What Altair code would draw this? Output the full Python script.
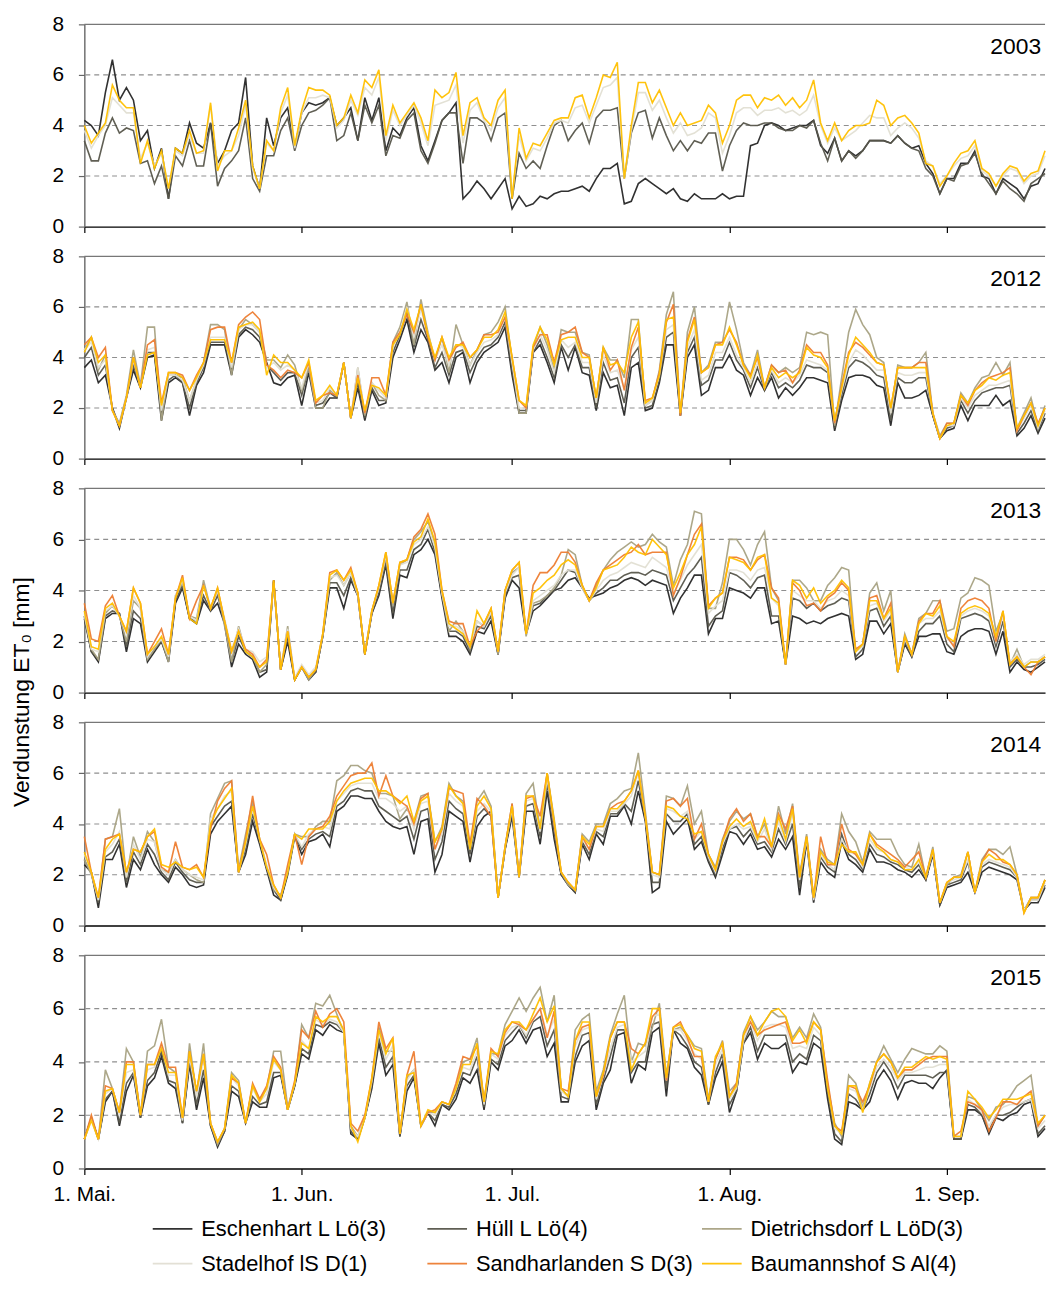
import altair as alt
import pandas as pd

FONT = "Liberation Sans"

SERIES = ["Eschenhart L Lö(3)", "Hüll L Lö(4)", "Dietrichsdorf L LöD(3)",
          "Stadelhof lS D(1)", "Sandharlanden S D(3)", "Baumannshof S Al(4)"]
COLORS = ["#262626", "#57564b", "#a8a283", "#e2dfd3", "#ed7d31", "#ffc000"]

YEARS = ["2003", "2012", "2013", "2014", "2015"]
MONTH_DAYS = [0, 31, 61, 92, 123]
MONTH_LABELS = ["1. Mai.", "1. Jun.", "1. Jul.", "1. Aug.", "1. Sep."]
Y_TICKS = [0, 2, 4, 6, 8]
GRID_VALUES = [2, 4, 6]

# ---------------- 2003 (daily ET0, 1 May - 15 Sep) ----------------
E_2003 = [4.2,4.0,3.6,5.3,6.6,5.0,5.5,5.0,3.4,3.8,
          2.3,3.1,1.1,3.1,2.9,4.1,3.3,3.1,4.1,2.5,
          3.0,3.8,4.1,5.9,2.4,1.5,4.3,3.2,4.3,4.7,
          3.1,4.5,4.9,4.8,4.9,5.1,4.0,4.3,4.7,3.4,
          5.1,4.2,5.1,3.0,3.9,3.6,4.3,4.7,3.2,2.6,
          3.4,4.2,4.5,4.9,1.1,1.4,1.8,1.5,1.1,1.5,
          1.9,0.7,1.2,0.8,0.9,1.2,1.1,1.3,1.4,1.4,
          1.5,1.6,1.4,1.9,2.3,2.3,2.5,0.9,1.0,1.7,
          1.9,1.7,1.5,1.3,1.5,1.1,1.0,1.3,1.1,1.1,
          1.1,1.3,1.1,1.2,1.2,3.2,3.3,4.0,4.1,4.0,
          3.8,3.9,4.0,4.0,4.2,3.2,2.9,3.5,2.6,3.0,
          2.8,3.0,3.4,3.4,3.4,3.3,3.6,3.3,3.1,3.2,
          2.5,2.1,1.3,1.9,1.9,2.5,2.5,3.0,2.0,1.9,
          1.3,1.9,1.7,1.5,1.1,1.6,1.7,2.3]
H_2003 = [3.4,2.6,2.6,3.7,4.3,3.7,3.9,3.8,2.5,2.6,
          1.7,2.4,1.1,2.8,2.4,3.4,2.4,2.4,4.1,1.6,
          2.3,2.6,3.0,4.3,1.9,1.4,2.8,2.8,3.8,4.3,
          3.0,4.0,4.5,4.6,4.8,5.1,3.4,3.6,4.5,3.4,
          4.8,4.1,4.8,2.8,3.6,3.5,4.2,4.5,3.0,2.5,
          3.3,4.2,4.5,4.5,2.5,4.3,4.3,4.1,3.4,4.3,
          4.5,1.1,2.9,2.3,2.6,2.3,3.2,4.0,4.2,3.4,
          3.8,4.1,3.3,4.3,4.6,4.6,4.7,1.9,3.7,4.5,
          4.6,3.5,4.3,3.6,3.0,3.4,3.0,3.4,3.3,3.7,
          3.7,2.2,3.2,3.8,4.1,4.0,4.0,4.1,4.1,3.9,
          3.8,3.8,4.0,3.9,4.2,3.3,2.6,3.5,2.6,3.0,
          2.7,3.0,3.4,3.4,3.4,3.3,3.6,3.3,3.1,3.0,
          2.3,2.0,1.3,1.9,1.8,2.4,2.5,2.9,2.1,1.7,
          1.3,1.8,1.5,1.3,1.0,1.7,1.9,2.1]
S_2003 = [3.8,3.1,3.6,4.0,5.1,4.8,4.5,4.5,2.7,3.3,
          2.4,2.9,1.5,3.0,2.8,3.6,2.9,2.9,4.8,2.4,
          2.8,3.0,3.6,4.8,2.3,1.5,3.3,3.0,4.5,5.2,
          3.1,4.5,5.1,5.1,5.2,5.1,3.9,4.2,5.0,4.4,
          5.5,5.2,5.9,3.4,4.6,4.0,4.4,4.8,4.1,3.2,
          4.8,4.9,5.0,5.6,3.3,4.6,4.9,4.2,3.8,4.7,
          5.1,1.2,3.6,2.6,3.1,3.0,3.5,4.1,4.2,4.1,
          4.7,4.8,4.1,4.8,5.5,5.6,5.9,1.9,3.8,5.3,
          5.3,4.6,5.0,4.3,3.7,4.1,3.6,3.7,3.9,4.5,
          4.3,2.9,3.6,4.5,4.7,4.7,4.4,4.6,4.6,4.7,
          4.5,4.6,4.4,4.6,5.2,4.0,3.3,3.9,3.4,3.6,
          3.8,4.1,4.4,4.3,4.3,3.6,3.9,4.1,3.9,3.5,
          2.6,2.4,1.7,2.0,2.4,2.7,2.8,3.2,2.2,2.0,
          1.6,2.0,2.3,2.2,1.7,2.0,2.1,2.8]
B_2003 = [4.0,3.3,3.7,4.1,5.6,5.0,4.7,4.7,2.5,3.4,
          2.3,3.0,1.5,3.1,2.9,3.8,2.9,3.0,4.9,2.2,
          3.0,3.0,3.9,5.0,2.4,1.5,3.4,3.0,4.7,5.5,
          3.2,4.6,5.5,5.4,5.4,5.2,4.0,4.3,5.2,4.5,
          5.8,5.5,6.2,3.6,4.8,4.1,4.5,4.9,4.3,3.4,
          5.4,5.1,5.3,6.1,3.6,4.9,5.1,4.3,4.0,5.0,
          5.4,1.1,3.9,2.7,3.3,3.2,3.7,4.2,4.3,4.3,
          5.1,5.2,4.3,5.1,6.0,5.9,6.5,1.9,4.0,5.7,
          5.7,4.9,5.4,4.7,4.0,4.5,4.0,4.1,4.2,4.8,
          4.5,3.3,4.0,5.0,5.2,5.2,4.7,5.1,5.0,5.2,
          4.8,5.1,4.7,5.0,5.8,4.1,3.4,4.1,3.4,3.8,
          4.0,4.0,4.1,5.0,4.8,4.0,4.3,4.4,4.1,3.7,
          2.5,2.4,1.6,2.0,2.5,2.9,3.0,3.4,2.3,2.1,
          1.6,2.1,2.4,2.3,1.8,2.1,2.2,3.0]

# ---------------- 2012 ----------------
E_2012 = [3.6,3.9,3.0,3.3,2.0,1.2,2.4,3.5,2.8,4.0,
          4.1,1.5,3.0,3.2,3.0,1.7,2.9,3.4,4.5,4.5,
          4.5,3.3,4.8,5.1,4.9,4.6,3.8,3.0,2.9,3.2,
          3.3,2.1,3.4,2.0,2.0,2.4,2.4,3.8,1.6,2.8,
          1.5,2.7,2.1,2.2,4.0,4.7,5.5,4.2,5.1,4.6,
          3.5,3.8,3.0,4.0,4.2,3.0,3.8,4.2,4.4,4.6,
          5.2,3.3,1.8,1.8,4.2,4.5,3.8,3.0,4.4,3.5,
          4.4,3.4,3.3,1.9,3.4,2.8,2.9,1.7,3.6,3.8,
          1.9,2.0,3.0,4.5,4.5,1.7,4.0,4.5,2.5,2.7,
          3.6,3.6,4.1,3.5,3.3,2.5,3.2,2.7,3.2,2.4,
          2.8,2.5,2.8,3.2,3.2,3.1,3.0,1.1,2.3,3.2,
          3.3,3.3,3.2,2.9,2.8,1.3,3.0,2.4,2.4,2.5,
          2.7,1.7,0.8,1.1,1.2,2.1,1.5,2.1,2.1,2.1,
          2.5,2.1,2.3,0.9,1.2,1.7,1.0,1.6]
H_2012 = [4.0,4.4,3.3,3.7,2.0,1.3,2.4,3.7,2.8,4.2,
          4.2,1.7,3.1,3.3,3.0,2.0,3.0,3.6,4.6,4.6,
          4.6,3.5,4.9,5.2,5.1,4.8,3.7,3.4,3.1,3.4,
          3.4,2.5,3.6,2.1,2.2,2.6,2.4,3.8,1.6,3.0,
          1.6,2.8,2.3,2.3,4.2,4.9,5.8,4.4,5.5,4.7,
          3.6,4.2,3.3,4.2,4.3,3.4,4.0,4.4,4.5,4.8,
          5.4,3.5,1.9,1.9,4.2,4.7,4.0,3.2,4.5,4.0,
          4.5,3.6,3.6,2.0,3.8,3.1,3.2,2.2,4.0,4.4,
          2.0,2.1,3.1,4.8,5.0,1.7,4.2,4.8,2.9,3.1,
          3.9,3.9,4.6,3.9,3.5,2.8,3.6,2.7,3.4,2.8,
          3.0,2.8,3.1,3.7,3.6,3.6,3.4,1.2,2.5,3.6,
          3.9,3.8,3.6,3.3,3.2,1.5,3.2,3.0,3.0,3.2,
          3.2,1.7,0.8,1.2,1.3,2.3,1.8,2.3,2.6,2.7,
          2.8,2.8,2.9,1.0,1.4,1.9,1.1,1.8]
D_2012 = [4.3,4.8,3.5,4.1,1.9,1.4,2.5,4.3,2.9,5.2,
          5.2,1.5,3.3,3.3,3.2,2.3,3.1,3.8,5.3,5.3,
          5.1,3.3,5.1,5.5,5.3,5.0,3.9,3.9,3.6,4.1,
          3.7,2.7,3.6,2.0,2.0,2.7,2.5,3.8,1.6,3.6,
          1.7,3.0,2.5,2.3,4.6,5.2,6.2,4.5,6.3,5.0,
          3.9,4.8,3.4,5.3,4.5,3.7,4.3,4.9,5.0,5.4,
          6.0,3.9,1.8,1.8,4.4,5.2,4.5,3.5,5.1,5.0,
          5.0,4.2,4.1,2.3,4.4,3.9,3.9,3.2,5.5,5.5,
          2.1,2.3,3.5,5.7,6.6,1.7,5.0,6.0,3.4,3.7,
          4.6,4.6,6.2,5.1,3.8,3.3,4.3,2.8,3.7,3.4,
          3.6,3.4,3.6,5.0,4.9,5.0,4.9,1.3,3.2,5.0,
          5.9,5.3,4.9,4.0,3.8,1.8,3.7,3.6,3.6,3.8,
          4.2,1.8,0.9,1.4,1.4,2.6,2.2,2.8,3.2,3.3,
          3.8,3.3,3.8,1.2,1.8,2.4,1.3,2.1]
S_2012 = [4.3,4.6,3.6,3.9,1.9,1.3,2.4,3.9,2.8,4.3,
          4.4,1.9,3.3,3.3,3.1,2.3,3.1,3.7,4.8,4.8,
          4.8,3.6,5.1,5.3,5.3,5.0,3.6,3.8,3.5,3.7,
          3.5,2.8,3.8,2.2,2.3,2.8,2.5,3.8,1.6,3.6,
          1.8,3.0,2.7,2.4,4.4,5.0,6.0,4.8,5.9,4.9,
          3.9,4.5,3.7,4.5,4.4,3.7,4.2,4.6,4.7,4.9,
          5.6,3.8,2.0,2.0,4.3,4.9,4.3,3.4,4.7,4.4,
          4.6,3.8,3.8,2.2,4.1,3.4,3.5,2.8,4.3,4.8,
          2.1,2.3,3.3,5.1,5.3,1.8,4.4,5.1,3.1,3.3,
          4.2,4.2,4.8,4.1,3.6,3.0,3.8,2.8,3.5,3.0,
          3.2,3.0,3.3,3.9,3.8,3.7,3.5,1.4,2.7,3.8,
          4.3,4.1,3.8,3.5,3.5,1.8,3.4,3.3,3.3,3.4,
          3.4,1.8,0.8,1.3,1.3,2.4,2.0,2.5,2.7,2.9,
          2.9,3.0,3.1,1.1,1.6,2.1,1.2,1.9]
Sa_2012 = [4.5,4.8,4.0,4.4,1.9,1.3,2.4,4.0,2.8,4.5,
           4.7,2.2,3.4,3.4,3.3,2.7,3.3,3.8,5.1,5.2,
           5.2,3.8,5.3,5.6,5.8,5.5,3.7,3.5,3.2,3.5,
           3.4,3.2,3.8,2.2,2.5,2.6,2.5,3.8,1.6,3.3,
           1.8,3.2,3.2,2.5,4.6,5.0,5.7,5.0,6.1,4.8,
           3.9,4.8,3.9,4.4,4.6,4.0,4.3,4.9,4.9,5.0,
           5.6,4.0,2.3,2.0,4.4,4.9,4.9,3.8,4.9,5.0,
           5.2,4.2,4.0,2.4,4.4,3.5,3.9,2.7,4.4,5.2,
           2.3,2.4,3.4,5.4,6.1,1.7,4.7,5.6,3.4,3.6,
           4.5,4.6,5.1,4.6,3.7,3.3,4.0,2.8,3.7,3.4,
           3.5,3.0,3.5,4.5,4.2,4.2,3.7,1.4,2.9,4.2,
           4.6,4.4,4.1,3.8,3.7,2.0,3.6,3.6,3.6,3.8,
           3.8,1.8,0.8,1.4,1.4,2.5,2.1,2.7,3.0,3.2,
           3.3,3.4,3.6,1.1,1.7,2.2,1.4,2.0]
B_2012 = [4.2,4.8,3.8,4.1,1.9,1.3,2.4,4.0,2.8,4.1,
          4.2,2.1,3.4,3.4,3.2,2.7,3.2,3.8,4.7,4.7,
          4.7,3.8,5.2,5.3,5.4,5.1,3.3,4.1,3.8,3.8,
          3.5,3.2,3.9,2.3,2.5,2.9,2.5,3.8,1.6,3.2,
          1.9,2.9,2.8,2.5,4.5,4.9,5.9,5.1,6.1,4.9,
          4.0,4.8,4.0,4.5,4.5,4.0,4.3,4.8,4.8,5.1,
          5.8,4.0,2.3,2.1,4.5,5.2,4.7,3.7,4.7,4.8,
          4.8,4.0,4.0,2.4,4.4,3.7,3.8,3.4,4.8,5.4,
          2.2,2.4,3.3,5.5,5.6,1.8,4.6,5.5,3.4,3.6,
          4.5,4.5,5.2,4.5,3.7,3.2,4.1,2.8,3.6,3.2,
          3.4,3.2,3.4,4.4,4.1,4.0,3.6,1.5,2.8,4.1,
          4.8,4.5,4.2,3.8,3.7,2.0,3.6,3.6,3.6,3.6,
          3.6,1.8,0.8,1.3,1.4,2.5,2.2,2.7,2.9,3.2,
          3.1,3.3,3.4,1.2,1.7,2.2,1.3,2.0]

# ---------------- 2013 ----------------
E_2013 = [2.9,1.6,1.2,2.9,3.1,3.1,1.6,2.9,2.7,1.2,
          1.6,2.0,1.2,3.5,4.1,2.9,2.7,3.6,3.2,3.5,
          2.7,1.0,1.9,1.5,1.3,0.6,0.8,4.4,0.9,2.0,
          0.5,1.0,0.5,0.8,2.2,4.1,4.1,3.3,4.4,3.8,
          1.5,3.1,3.8,5.0,2.9,4.6,4.5,5.4,5.6,6.0,
          5.4,3.7,2.2,2.2,2.0,1.5,2.4,2.3,2.8,1.5,
          3.7,4.4,4.1,2.3,3.2,3.4,3.7,4.0,4.1,4.4,
          4.5,4.1,3.7,3.8,3.9,4.1,4.2,4.4,4.5,4.4,
          4.2,4.4,4.3,4.2,3.1,3.7,4.1,4.6,4.6,2.3,
          2.9,2.9,4.1,4.0,3.9,3.7,4.1,4.1,2.7,2.8,
          1.1,3.0,2.9,2.7,2.8,2.7,2.9,3.0,3.1,3.0,
          1.3,1.5,2.8,2.8,2.3,2.7,0.8,1.9,1.4,2.2,
          2.2,2.3,2.3,1.6,1.5,2.2,2.4,2.5,2.5,2.4,
          1.5,2.4,0.8,1.2,0.9,0.8,1.0,1.2]
H_2013 = [3.0,1.6,1.3,3.0,3.2,3.1,1.8,3.2,2.9,1.3,
          1.7,2.0,1.3,3.6,4.2,2.9,2.8,3.8,3.2,3.8,
          2.8,1.2,2.2,1.6,1.4,0.8,0.9,4.4,0.9,2.2,
          0.5,1.0,0.6,0.8,2.2,4.3,4.3,3.8,4.5,3.8,
          1.5,3.1,3.9,5.1,3.1,4.8,4.8,5.6,5.8,6.4,
          5.5,3.8,2.4,2.4,2.2,1.6,2.6,2.5,3.0,1.5,
          3.8,4.5,4.6,2.3,3.4,3.5,3.8,4.0,4.4,4.8,
          4.7,4.1,3.6,3.9,4.1,4.4,4.4,4.6,4.7,4.7,
          4.6,4.8,4.7,4.6,3.6,4.1,4.6,4.9,5.3,2.6,
          3.0,3.2,4.7,4.6,4.4,4.1,4.5,4.6,3.0,3.0,
          1.1,3.7,3.6,3.3,3.5,3.2,3.4,3.5,3.7,3.6,
          1.4,1.7,3.2,3.3,2.6,3.0,0.8,2.0,1.4,2.4,
          2.7,2.7,3.0,1.9,1.6,2.9,3.0,3.1,3.0,2.8,
          1.8,2.8,1.0,1.3,1.0,1.0,1.1,1.3]
D_2013 = [3.0,1.7,1.3,3.1,3.4,3.0,2.0,3.6,3.3,1.3,
          1.7,2.1,1.2,3.8,4.3,3.0,2.9,4.4,3.3,4.0,
          2.6,1.2,2.6,1.6,1.4,0.8,1.1,4.3,0.9,2.6,
          0.5,1.0,0.5,0.9,2.2,4.4,4.7,4.2,4.7,3.9,
          1.5,3.2,4.1,5.3,3.4,5.0,5.2,6.0,6.3,6.7,
          5.8,3.9,2.4,2.8,2.4,1.7,2.8,2.6,3.2,1.5,
          4.0,4.7,4.9,2.2,3.5,3.6,3.8,4.1,4.6,5.6,
          5.4,4.2,3.6,4.2,4.8,5.2,5.5,5.7,5.9,5.7,
          5.8,6.2,5.9,5.7,4.2,5.2,5.8,7.1,7.0,3.3,
          3.3,4.3,6.0,6.0,5.6,5.0,5.8,6.3,4.1,3.6,
          1.1,4.4,4.4,4.1,3.6,3.6,4.2,4.5,4.9,4.8,
          1.6,1.9,3.9,4.3,3.2,4.0,0.8,2.3,1.5,2.9,
          3.1,3.6,3.6,2.4,2.5,3.7,3.9,4.5,4.4,4.2,
          2.4,3.1,1.1,1.7,1.0,1.2,1.2,1.4]
S_2013 = [3.1,1.7,1.6,3.2,3.4,3.0,2.3,3.8,3.3,1.4,
          1.8,2.1,1.4,3.8,4.4,3.0,2.8,4.2,3.3,4.0,
          2.9,1.7,2.5,1.7,1.6,1.2,1.4,4.3,1.0,2.5,
          0.6,1.1,0.7,1.0,2.3,4.5,4.6,4.2,4.7,3.8,
          1.6,3.2,4.1,5.4,3.5,5.0,5.1,5.8,6.0,6.5,
          5.7,3.9,2.6,2.6,2.4,1.8,2.8,2.6,3.2,1.6,
          3.9,4.6,4.9,2.3,3.6,3.8,4.0,4.2,4.6,4.8,
          4.8,4.1,3.6,4.0,4.4,4.6,4.7,4.9,5.1,5.0,
          4.9,5.3,5.1,4.9,3.9,4.4,5.0,5.4,5.8,3.1,
          3.4,3.6,4.8,4.8,4.7,4.4,4.8,4.9,3.7,3.4,
          1.1,4.0,3.8,3.6,3.6,3.3,3.6,3.7,4.0,3.8,
          1.6,1.8,3.4,3.5,2.8,3.2,0.8,2.1,1.5,2.7,
          2.9,2.9,3.2,2.1,1.9,3.0,3.2,3.3,3.2,3.0,
          2.0,3.0,1.2,1.5,1.1,1.3,1.3,1.5]
Sa_2013 = [3.5,2.1,2.0,3.4,3.8,3.0,2.4,4.1,3.5,1.5,
           2.0,2.5,1.5,3.7,4.6,2.9,3.6,4.2,3.3,4.1,
           2.8,1.6,2.4,1.7,1.5,1.0,1.3,4.4,0.9,2.4,
           0.5,1.0,0.6,0.9,2.3,4.7,4.8,4.4,4.9,3.9,
           1.5,3.2,4.2,5.5,3.5,5.1,5.2,6.1,6.4,7.0,
           6.2,4.0,2.8,2.7,2.7,1.8,2.4,2.7,3.3,1.6,
           4.0,4.8,5.1,2.3,4.2,4.7,4.7,5.0,5.5,5.5,
           5.1,4.2,3.6,4.3,4.8,5.0,5.2,5.4,5.5,5.8,
           5.4,5.5,5.5,5.5,3.8,4.5,5.4,6.2,6.6,3.4,
           3.7,3.9,5.3,5.3,5.2,4.8,5.2,5.4,4.1,3.7,
           1.1,4.3,4.0,3.4,3.5,3.2,3.7,3.9,4.3,4.0,
           1.7,1.9,3.7,3.8,2.9,3.5,0.8,2.2,1.5,2.8,
           3.1,3.1,3.6,2.2,1.8,3.3,3.6,3.7,3.6,3.3,
           2.0,3.2,1.1,1.4,1.0,0.7,1.2,1.4]
B_2013 = [3.2,1.8,1.7,3.3,3.5,3.0,2.4,4.1,3.5,1.5,
          1.8,2.2,1.5,3.7,4.5,2.9,2.7,4.2,3.3,4.1,
          2.8,1.6,2.4,1.6,1.4,1.0,1.2,4.4,0.9,2.4,
          0.5,1.0,0.6,0.9,2.3,4.6,4.8,4.4,4.8,3.9,
          1.5,3.2,4.2,5.5,3.5,5.1,5.2,5.9,6.1,6.8,
          5.9,4.0,2.7,2.5,2.3,1.8,3.2,2.7,3.3,1.6,
          4.0,4.8,5.1,2.3,3.9,4.1,4.4,4.6,5.0,5.2,
          5.0,4.2,3.6,4.1,4.8,4.9,5.0,5.3,5.7,5.5,
          5.4,6.0,5.7,5.4,4.1,4.7,5.4,5.8,6.5,3.3,
          3.7,3.9,5.3,5.2,5.1,4.8,5.3,5.4,3.7,3.5,
          1.1,4.4,4.2,3.7,4.1,3.5,3.8,4.0,4.4,4.1,
          1.6,1.9,3.6,3.6,2.9,3.3,0.8,2.2,1.5,2.7,
          3.1,3.0,3.4,2.2,2.0,3.1,3.3,3.4,3.3,3.1,
          2.2,3.2,1.1,1.4,1.0,1.2,1.2,1.4]

# ---------------- 2014 ----------------
E_2014 = [2.4,2.1,0.7,2.6,2.6,3.2,1.5,2.6,2.2,3.0,
          2.4,2.0,1.7,2.3,2.0,1.6,1.5,1.6,3.6,4.1,
          4.4,4.7,2.1,2.8,4.1,3.2,2.2,1.2,1.0,2.0,
          3.5,2.8,3.3,3.4,3.6,3.1,4.5,4.7,5.1,5.1,
          5.0,5.0,4.5,4.1,3.9,3.8,3.9,2.8,4.1,4.2,
          2.1,2.8,4.5,4.3,4.1,2.5,3.9,4.3,4.5,1.1,
          3.0,4.3,1.9,4.5,4.5,3.2,5.3,3.4,2.0,1.6,
          1.3,3.2,2.6,3.6,3.2,4.3,4.3,4.7,4.0,5.3,
          4.1,1.3,1.5,4.1,3.6,3.9,4.2,3.0,3.3,2.5,
          1.9,2.8,3.7,3.6,3.2,3.6,3.0,3.1,2.7,3.4,
          3.0,3.5,1.2,3.3,0.9,2.5,2.1,1.9,3.3,2.6,
          2.4,2.1,3.0,2.5,2.5,2.4,2.2,2.1,1.9,2.2,
          1.8,2.8,0.8,1.5,1.6,1.7,2.1,1.3,2.1,2.3,
          2.2,2.1,2.0,1.8,0.6,0.9,0.9,1.5]
H_2014 = [2.6,2.1,0.9,2.7,2.9,3.4,1.7,2.9,2.4,3.2,
          2.8,2.1,1.8,2.5,2.1,1.8,1.7,1.7,3.9,4.3,
          4.7,4.9,2.1,3.0,4.4,3.3,2.3,1.4,1.0,2.1,
          3.6,3.0,3.4,3.6,3.7,3.5,4.7,4.9,5.3,5.4,
          5.3,5.3,4.7,4.5,4.3,4.1,4.3,3.4,4.5,4.6,
          2.6,3.3,4.9,4.6,4.4,2.8,4.3,4.6,4.3,1.1,
          3.0,4.5,1.9,4.7,4.8,3.5,5.6,3.7,2.0,1.6,
          1.3,3.3,2.8,3.7,3.5,4.4,4.4,4.8,4.5,5.7,
          4.2,1.7,1.7,4.4,4.1,4.1,4.4,3.2,3.5,2.6,
          2.0,3.0,3.8,3.9,3.5,3.8,3.2,3.3,2.9,3.8,
          3.2,4.0,1.5,3.4,1.0,2.7,2.3,2.1,3.6,2.8,
          2.6,2.2,3.2,2.8,2.7,2.5,2.4,2.2,2.1,2.4,
          1.8,2.9,0.8,1.6,1.7,1.8,2.5,1.3,2.3,2.5,
          2.4,2.3,2.2,1.9,0.6,1.0,1.0,1.6]
D_2014 = [2.6,2.0,1.0,3.4,3.5,4.6,1.9,3.5,2.7,3.7,
          3.3,2.2,2.1,2.6,2.2,2.0,1.8,1.7,4.4,5.0,
          5.6,5.7,2.2,3.6,4.9,3.4,2.3,1.4,1.2,2.1,
          3.6,3.5,3.5,3.9,4.1,4.1,5.7,5.9,6.3,6.3,
          6.1,6.0,5.2,5.2,5.1,4.2,4.6,4.1,5.1,5.2,
          3.3,3.9,5.6,5.1,4.9,3.1,4.9,5.3,4.7,1.1,
          3.1,4.8,1.9,5.2,5.6,3.8,6.0,4.2,2.1,1.6,
          1.4,3.6,3.3,4.0,4.0,4.8,5.0,5.3,5.4,6.8,
          4.5,2.1,2.0,5.1,5.0,4.7,5.5,4.0,4.5,2.8,
          2.3,3.4,4.1,4.5,4.2,4.4,3.5,4.0,3.1,4.7,
          3.6,4.8,2.0,3.6,1.1,3.0,2.6,2.4,4.4,3.7,
          3.3,2.5,3.7,3.4,3.4,3.4,2.8,2.4,2.3,3.2,
          1.9,3.1,0.9,1.6,1.9,2.0,2.9,1.3,2.6,3.0,
          3.0,2.8,3.1,2.0,0.6,1.1,1.1,1.8]
S_2014 = [2.8,2.1,1.0,2.9,3.2,3.7,1.9,3.2,2.6,3.4,
          3.3,2.2,2.0,2.6,2.2,2.0,1.9,1.8,4.2,4.6,
          5.1,5.3,2.1,3.2,4.6,3.4,2.4,1.5,1.1,2.2,
          3.6,3.1,3.6,3.8,3.9,3.8,4.9,5.2,5.5,5.6,
          5.6,5.6,5.0,5.0,4.8,4.5,4.7,3.8,4.8,4.9,
          3.0,3.6,5.2,4.9,4.7,3.0,4.5,4.8,4.5,1.1,
          3.1,4.6,1.9,4.9,5.0,3.7,5.8,4.0,2.1,1.7,
          1.4,3.4,3.0,3.8,3.7,4.5,4.5,4.8,5.1,6.0,
          4.3,2.0,1.9,4.6,4.5,4.3,4.5,3.4,3.7,2.7,
          2.1,3.2,3.8,4.0,3.8,3.9,3.3,3.8,3.0,4.1,
          3.3,4.4,1.8,3.4,1.0,2.8,2.4,2.2,3.4,2.9,
          2.8,2.3,3.4,3.0,2.9,2.6,2.5,2.3,2.2,2.5,
          1.9,2.9,0.9,1.7,1.8,1.9,2.6,1.3,2.4,2.6,
          2.5,2.4,2.3,1.9,0.6,1.0,1.0,1.7]
Sa_2014 = [3.5,2.1,1.1,3.4,3.5,3.6,2.1,3.0,2.9,3.5,
           3.7,2.3,2.1,3.3,2.3,2.2,2.4,1.9,3.8,4.9,
           5.4,5.7,2.1,3.4,5.1,3.4,2.8,1.6,1.1,2.4,
           3.6,2.4,3.5,3.8,3.9,4.3,5.1,5.5,5.9,6.0,
           6.0,6.4,5.1,5.9,5.1,4.9,4.7,4.0,5.0,5.2,
           3.0,3.8,5.4,5.3,5.2,3.2,5.0,4.7,4.3,1.1,
           3.1,4.8,1.9,5.0,5.1,4.3,6.0,4.0,2.1,1.7,
           1.4,3.5,3.0,3.9,3.9,4.6,4.8,4.9,5.3,6.1,
           4.3,2.1,2.0,4.9,5.0,4.7,5.0,3.4,4.0,2.8,
           2.2,3.3,4.2,4.6,4.1,4.4,3.5,3.5,3.1,4.4,
           3.8,4.7,1.9,3.5,1.1,3.5,2.4,2.4,4.0,3.0,
           2.8,2.4,3.6,3.2,3.0,2.8,2.6,2.3,2.6,2.9,
           1.9,3.0,0.9,1.7,1.9,1.9,2.9,1.3,2.5,3.0,
           2.8,2.5,2.4,2.0,0.5,1.1,1.1,1.8]
B_2014 = [2.9,2.1,1.1,3.0,3.4,3.6,2.1,3.0,2.9,3.5,
          3.8,2.4,2.3,2.5,2.3,2.2,2.3,1.9,4.0,4.6,
          5.0,5.4,2.1,3.3,4.7,3.4,2.3,1.6,1.1,2.1,
          3.6,3.4,3.8,3.8,3.8,4.1,4.9,5.3,5.6,5.7,
          5.8,5.8,5.3,5.3,5.1,4.8,5.1,4.1,4.9,5.1,
          3.3,3.8,5.5,5.1,4.8,3.0,4.7,5.1,4.6,1.1,
          3.1,4.7,1.9,5.1,5.1,3.8,6.0,4.1,2.1,1.7,
          1.4,3.5,3.2,3.9,3.9,4.6,4.6,4.9,5.3,6.1,
          4.3,2.1,2.0,4.7,4.6,4.3,4.2,3.6,3.7,2.8,
          2.2,3.3,3.9,4.2,3.9,4.1,3.4,4.2,3.1,4.3,
          3.4,4.6,1.9,3.5,1.1,2.9,2.5,2.4,3.2,2.9,
          2.9,2.4,3.6,3.1,2.9,2.6,2.5,2.2,2.2,2.6,
          1.9,3.0,0.9,1.7,1.9,1.9,2.9,1.3,2.5,2.8,
          2.6,2.6,2.4,2.0,0.5,1.1,1.1,1.8]

# ---------------- 2015 ----------------
E_2015 = [1.1,1.9,1.1,2.5,2.9,1.6,2.9,3.5,1.9,3.1,
          3.4,4.2,3.2,3.0,1.7,3.9,2.2,3.4,1.6,0.8,
          1.4,2.9,2.7,1.7,2.5,2.3,2.3,3.4,3.5,2.2,
          3.1,4.3,4.1,5.2,5.0,5.4,5.2,5.1,1.3,1.1,
          1.9,3.0,4.7,3.5,3.9,1.2,2.9,3.4,1.6,2.1,
          1.6,2.4,2.2,2.6,3.4,3.2,3.7,2.2,4.0,3.7,
          4.6,4.8,5.2,4.7,5.2,5.3,4.2,4.7,2.5,2.5,
          4.0,4.6,4.8,2.2,3.2,3.7,5.0,5.1,3.2,3.9,
          3.7,5.1,5.3,2.7,5.2,4.7,4.5,3.8,3.5,2.4,
          3.4,4.0,2.1,2.9,4.7,5.1,4.1,4.7,4.5,4.5,
          4.7,3.6,4.0,3.9,4.7,4.5,2.6,1.1,0.9,2.5,
          2.4,2.2,2.5,3.3,3.7,3.3,2.6,3.2,3.3,3.2,
          3.2,3.0,3.4,3.7,1.1,1.1,2.2,2.2,2.0,1.3,
          1.9,1.8,2.0,2.1,2.4,2.5,1.2,1.5]
H_2015 = [1.1,1.9,1.1,2.6,2.9,1.7,3.2,3.6,1.9,3.3,
          3.6,4.4,3.3,3.2,1.7,4.0,2.4,3.7,1.6,0.9,
          1.4,3.1,2.9,1.7,2.7,2.4,2.5,3.6,3.6,2.2,
          3.1,4.5,4.3,5.4,5.3,5.5,5.4,5.1,1.4,1.1,
          1.9,3.1,4.9,3.8,4.2,1.2,3.1,3.5,1.6,2.1,
          1.8,2.4,2.3,2.8,3.6,3.5,4.2,2.3,4.1,3.9,
          4.8,5.1,5.4,4.9,5.5,5.7,4.6,5.2,2.7,2.6,
          4.2,5.0,5.1,2.4,3.3,4.2,5.2,5.2,3.6,4.0,
          4.0,5.4,5.5,3.0,5.2,5.0,4.6,4.0,3.8,2.4,
          3.6,4.3,2.4,2.9,4.7,5.3,4.4,5.0,5.0,5.0,
          5.0,4.0,4.3,4.1,5.0,4.8,2.9,1.3,1.0,2.8,
          2.6,2.2,2.8,3.6,4.0,3.6,3.0,3.5,3.5,3.5,
          3.5,3.4,3.6,3.6,1.1,1.1,2.4,2.3,2.0,1.4,
          2.0,2.0,2.1,2.3,2.5,2.6,1.3,1.6]
D_2015 = [1.1,1.9,1.1,3.7,3.0,2.1,4.5,4.0,2.0,4.4,
          4.6,5.6,3.8,3.6,1.8,4.7,2.8,4.7,1.7,0.9,
          1.5,3.6,3.3,1.7,3.1,2.6,3.0,4.4,4.4,2.3,
          3.2,5.4,4.9,6.2,6.1,6.5,5.8,5.1,1.6,1.2,
          1.9,3.3,5.3,4.4,4.4,1.3,3.4,3.7,1.6,2.1,
          2.1,2.5,2.4,3.0,4.0,4.1,4.9,2.5,4.3,4.3,
          5.4,5.9,6.4,5.9,6.4,6.8,5.5,6.5,3.0,2.7,
          5.2,5.6,5.8,2.9,3.7,5.0,5.8,6.5,4.0,4.7,
          4.6,5.3,6.2,3.5,5.2,5.3,5.0,4.6,4.5,2.6,
          4.1,4.8,2.9,3.2,5.1,5.7,5.2,5.5,5.9,5.7,
          5.7,4.9,5.3,4.9,5.8,5.3,3.1,1.7,1.2,3.5,
          3.2,2.3,3.2,4.0,4.6,4.1,3.6,4.1,4.5,4.4,
          4.3,4.3,4.6,4.4,1.2,1.2,2.7,2.6,2.2,1.8,
          2.3,2.4,2.7,3.1,3.3,3.5,1.6,2.0]
S_2015 = [1.1,1.8,1.1,2.8,3.0,2.0,3.6,3.7,2.0,3.7,
          3.8,4.6,3.5,3.5,1.8,4.2,2.7,4.1,1.7,1.0,
          1.5,3.4,3.1,1.7,3.0,2.5,2.8,4.0,3.7,2.2,
          3.2,4.8,4.5,5.6,5.4,5.6,5.5,5.1,1.5,1.2,
          1.9,3.3,5.1,4.1,4.6,1.3,3.3,3.7,1.6,2.1,
          2.0,2.5,2.4,3.0,3.8,3.7,4.4,2.4,4.3,4.1,
          5.0,5.3,5.4,5.0,5.6,6.0,5.0,5.6,2.9,2.7,
          4.6,5.2,5.3,2.6,3.5,4.5,5.3,5.4,4.0,4.2,
          4.4,5.7,5.8,3.3,5.2,5.2,4.8,4.3,4.1,2.5,
          3.9,4.5,2.6,3.0,4.8,5.5,4.8,5.3,5.4,5.4,
          5.3,4.5,4.6,4.5,5.3,5.0,3.1,1.5,1.3,3.0,
          2.9,2.2,3.0,3.8,4.1,3.8,3.3,3.6,3.6,3.7,
          3.8,3.8,3.9,3.9,1.2,1.2,2.6,2.4,2.1,1.6,
          2.0,2.3,2.4,2.4,2.5,2.6,1.5,1.8]
Sa_2015 = [1.1,2.0,1.1,3.1,3.0,2.1,4.0,4.0,2.0,3.9,
           3.9,4.7,3.8,3.8,1.9,4.4,2.9,4.3,1.7,1.0,
           1.5,3.4,3.2,1.7,3.2,2.6,3.1,4.2,3.8,2.2,
           3.3,5.2,4.9,5.9,5.3,5.8,6.0,5.5,1.7,1.4,
           2.0,3.4,5.5,4.5,4.9,1.3,3.5,4.4,1.6,2.1,
           2.2,2.5,2.4,3.2,4.2,4.1,4.6,2.5,4.5,4.2,
           5.1,5.5,5.4,5.2,5.6,6.0,4.9,5.9,3.0,2.9,
           4.8,5.3,5.4,2.7,3.5,4.9,5.5,5.5,4.5,4.3,
           4.7,5.7,6.0,3.3,5.3,5.5,4.9,4.2,4.2,2.5,
           4.1,4.7,2.7,3.2,5.0,5.5,5.0,5.2,5.3,5.4,
           5.5,4.7,4.7,4.8,5.5,5.2,3.3,1.6,1.4,3.1,
           3.0,2.5,3.1,4.0,4.3,4.0,3.4,3.7,3.7,3.9,
           4.1,4.2,4.2,4.2,1.2,1.4,2.5,2.4,2.2,1.4,
           1.9,2.5,2.5,2.4,2.7,2.9,1.6,2.0]
B_2015 = [1.1,1.8,1.1,2.9,3.0,2.1,3.9,3.9,2.0,3.9,
          3.9,4.5,3.6,3.6,1.9,4.4,2.9,4.3,1.7,1.0,
          1.5,3.5,3.2,1.7,3.1,2.5,3.0,4.1,3.7,2.2,
          3.2,4.7,4.5,5.7,5.5,5.7,5.7,5.2,1.6,1.0,
          1.9,3.4,5.2,4.3,4.9,1.3,3.5,3.6,1.6,2.2,
          2.1,2.5,2.4,3.0,3.9,3.9,4.7,2.5,4.4,4.3,
          5.2,5.5,5.5,5.2,5.8,6.4,5.5,6.1,3.0,2.7,
          4.8,5.5,5.5,2.7,3.6,4.9,5.5,5.5,3.7,4.3,
          4.7,6.0,6.0,3.4,5.3,5.4,5.0,4.5,4.4,2.5,
          4.2,4.7,2.7,3.1,5.0,5.7,5.0,5.5,5.9,6.0,
          5.7,4.8,5.2,4.7,5.5,5.2,3.0,1.6,1.3,3.1,
          3.1,2.1,3.2,4.0,4.3,4.0,3.4,3.8,3.8,4.0,
          4.2,4.1,4.2,4.1,1.2,1.2,2.9,2.6,2.3,1.9,
          2.2,2.6,2.6,2.6,2.7,2.8,1.7,2.0]

DATA = {
    "2003": [E_2003, H_2003, None, S_2003, None, B_2003],
    "2012": [E_2012, H_2012, D_2012, S_2012, Sa_2012, B_2012],
    "2013": [E_2013, H_2013, D_2013, S_2013, Sa_2013, B_2013],
    "2014": [E_2014, H_2014, D_2014, S_2014, Sa_2014, B_2014],
    "2015": [E_2015, H_2015, D_2015, S_2015, Sa_2015, B_2015],
}

rows = []
for yr, lists in DATA.items():
    for name, vals in zip(SERIES, lists):
        if vals is None:
            continue
        for d, v in enumerate(vals):
            rows.append({"year": yr, "series": name, "day": d, "value": v})
df = pd.DataFrame(rows)

W = 969
HEIGHTS = {"2003": 204, "2012": 204, "2013": 206, "2014": 205, "2015": 215}
N_DAYS = 138

label_expr = " : ".join(
    f"datum.value == {d} ? '{lab}'" for d, lab in zip(MONTH_DAYS, MONTH_LABELS)
) + " : ''"

color_scale = alt.Scale(domain=SERIES, range=COLORS)
legend = alt.Legend(
    title=None, orient="none", legendX=68, legendY=1194,
    direction="horizontal", columns=3, symbolType="stroke",
    symbolSize=1600, symbolStrokeWidth=1.8, labelFontSize=22,
    labelFont=FONT, labelColor="#000", labelOffset=8,
    columnPadding=5, rowPadding=3, gridAlign="all",
    labelLimit=400, padding=0,
)


def panel(year, bottom, with_title):
    h = HEIGHTS[year]
    xs = alt.Scale(domain=[0, N_DAYS - 1], nice=False, zero=False)
    ys = alt.Scale(domain=[0, 8], nice=False)
    x_axis = alt.Axis(
        values=MONTH_DAYS, labelExpr=label_expr, labels=bottom, grid=False,
        tickSize=6, tickColor="#000", tickWidth=1.2, domainColor="#000",
        domainWidth=1.4, labelFontSize=21, labelFont=FONT, labelColor="#000",
        labelPadding=9, labelFlush=False, labelOverlap=False, title=None,
    )
    y_kwargs = dict(
        values=Y_TICKS, grid=False, tickSize=6, tickColor="#666",
        tickWidth=1.2, domainColor="#666", domainWidth=1.4, labelFontSize=21,
        labelFont=FONT, labelColor="#000", labelPadding=15, labelFlush=False,
    )
    if with_title:
        y_axis = alt.Axis(
            title="Verdunstung ET₀ [mm]", titleFontSize=23, titleFont=FONT,
            titleFontWeight="normal", titleColor="#000", titlePadding=19,
            titleY=205, **y_kwargs)
    else:
        y_axis = alt.Axis(title=None, **y_kwargs)

    grid = alt.Chart(pd.DataFrame({"v": GRID_VALUES})).mark_rule(
        color="#8f8f8f", strokeWidth=1.1, strokeDash=[5, 4]
    ).encode(y=alt.Y("v:Q", scale=ys, axis=y_axis))
    top = alt.Chart(pd.DataFrame({"v": [8]})).mark_rule(
        color="#777777", strokeWidth=1.3
    ).encode(y=alt.Y("v:Q", scale=ys, axis=y_axis))

    layers = [grid, top]
    sub_year = df[df["year"] == year]
    for name in SERIES:
        sub = sub_year[sub_year["series"] == name]
        if sub.empty:
            continue
        layers.append(
            alt.Chart(sub).mark_line(strokeWidth=1.6, opacity=0.95).encode(
                x=alt.X("day:Q", scale=xs, axis=x_axis),
                y=alt.Y("value:Q", scale=ys, axis=y_axis),
                color=alt.Color("series:N", scale=color_scale, legend=legend),
            )
        )

    year_text = alt.Chart(pd.DataFrame({"label": [year]})).mark_text(
        align="right", baseline="middle", fontSize=23, font=FONT, color="#000"
    ).encode(x=alt.value(W - 4), y=alt.value(23), text="label:N")
    layers.append(year_text)
    return alt.layer(*layers).properties(width=W, height=h)


panels = [panel(y, bottom=(y == "2015"), with_title=(y == "2013")) for y in YEARS]

chart = alt.vconcat(*panels, spacing=30, bounds="flush").resolve_scale(
    color="shared"
).properties(
    padding={"left": 2, "top": 0, "right": 0, "bottom": 0}
).configure(font=FONT).configure_view(stroke=None)

chart.save("out.html", embed_options={"renderer": "svg", "actions": False})
